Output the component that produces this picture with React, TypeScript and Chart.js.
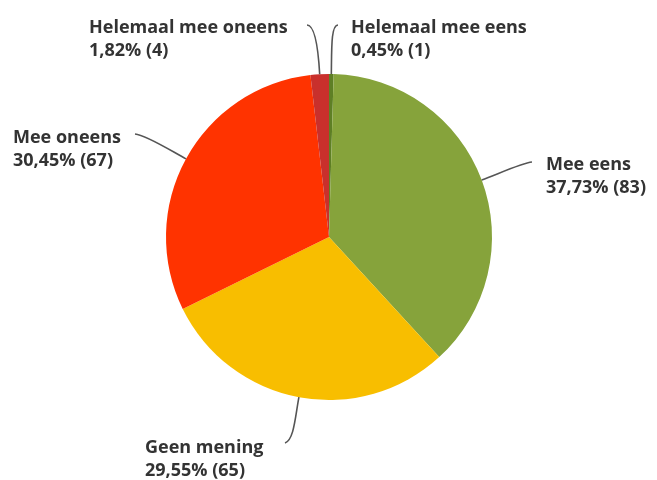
import React, { useEffect, useRef } from "react";
import { Chart, registerables } from "chart.js";

Chart.register(...registerables);

const categories = ["Helemaal mee eens", "Mee eens", "Geen mening", "Mee oneens", "Helemaal mee oneens"];
const counts = [1, 83, 65, 67, 4];
const percentLabels = ["0,45%", "37,73%", "29,55%", "30,45%", "1,82%"];
const colors = ["#5E7F25", "#86A33B", "#F8BE00", "#FF3300", "#C9302C"];

// label layout (text position, leader end, leader control offsets)
const labelLayout = [
  { tx: 351, ty: 33, ex: 338, ey: 25, k1: 26, c2x: 331, c2y: 25 },
  { tx: 546, ty: 170, ex: 532, ey: 162, k1: 18, c2x: 522, c2y: 163 },
  { tx: 145, ty: 453, ex: 285, ey: 443, k1: 20, c2x: 294, c2y: 440 },
  { tx: 13, ty: 143, ex: 135, ey: 134, k1: 18, c2x: 146, c2y: 135 },
  { tx: 89, ty: 33, ex: 307, ey: 25, k1: 26, c2x: 315, c2y: 25 },
];

const FONT = "bold 18px 'Open Sans', Roboto, sans-serif";

const labelPlugin = {
  id: "pieLabels",
  afterDraw(chart: any) {
    const ctx = chart.ctx;
    const meta = chart.getDatasetMeta(0);
    ctx.save();
    meta.data.forEach((arc: any, i: number) => {
      const p = arc.getProps(["x", "y", "startAngle", "endAngle", "outerRadius"], true);
      const mid = (p.startAngle + p.endAngle) / 2;
      const ax = p.x + Math.cos(mid) * p.outerRadius;
      const ay = p.y + Math.sin(mid) * p.outerRadius;
      const L = labelLayout[i];
      const c1x = ax + Math.cos(mid) * L.k1;
      const c1y = ay + Math.sin(mid) * L.k1;
      ctx.beginPath();
      ctx.moveTo(ax, ay);
      ctx.bezierCurveTo(c1x, c1y, L.c2x, L.c2y, L.ex, L.ey);
      ctx.strokeStyle = "#555555";
      ctx.lineWidth = 1.6;
      ctx.stroke();
      ctx.fillStyle = "#333333";
      ctx.font = FONT;
      ctx.textAlign = "left";
      ctx.textBaseline = "alphabetic";
      ctx.fillText(categories[i], L.tx, L.ty);
      ctx.fillText(`${percentLabels[i]} (${counts[i]})`, L.tx, L.ty + 23);
    });
    ctx.restore();
  },
};

export default function App() {
  const ref = useRef<HTMLCanvasElement>(null);
  useEffect(() => {
    if (!ref.current) return;
    const chart = new Chart(ref.current, {
      type: "pie",
      data: {
        labels: categories,
        datasets: [
          {
            data: counts,
            backgroundColor: colors,
            borderWidth: 0,
          },
        ],
      },
      options: {
        responsive: false,
        animation: false,
        layout: { padding: { top: 74, bottom: 80, left: 166, right: 165 } },
        plugins: { legend: { display: false }, tooltip: { enabled: false } },
      },
      plugins: [labelPlugin],
    });
    return () => chart.destroy();
  }, []);
  return (
    <div style={{ position: "fixed", left: 0, top: 0, width: 657, height: 480, background: "#fff" }}>
      <canvas ref={ref} width={657} height={480} style={{ width: 657, height: 480 }} />
    </div>
  );
}
